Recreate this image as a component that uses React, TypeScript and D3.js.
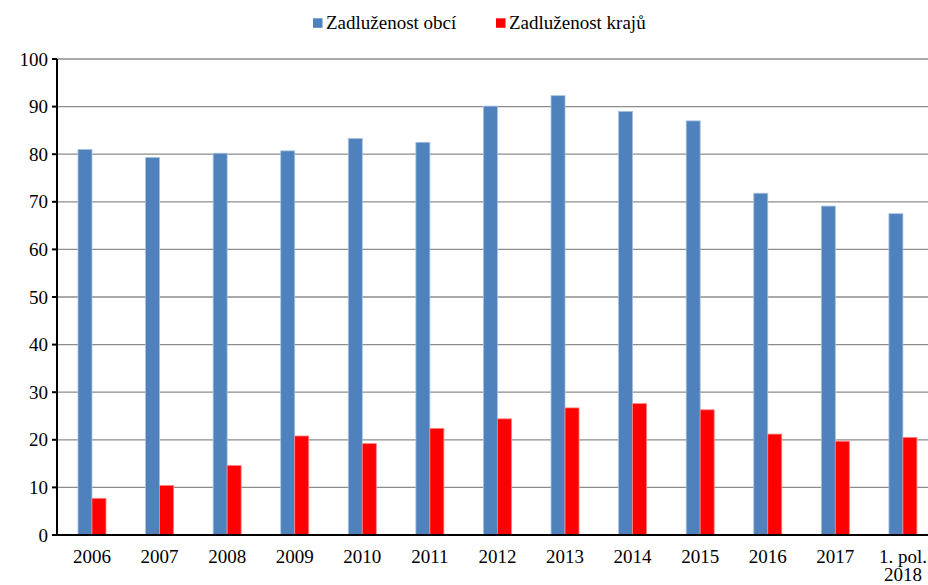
import React from "react";
import * as d3 from "d3";

const categories = ["2006","2007","2008","2009","2010","2011","2012","2013","2014","2015","2016","2017","1. pol.\n2018"];
const obce = [81.0, 79.3, 80.2, 80.7, 83.3, 82.5, 90.1, 92.3, 89.0, 87.0, 71.8, 69.1, 67.5];
const kraje = [7.7, 10.4, 14.6, 20.8, 19.2, 22.4, 24.4, 26.7, 27.6, 26.3, 21.2, 19.7, 20.5];
const yTicks = [0, 10, 20, 30, 40, 50, 60, 70, 80, 90, 100];
const seriesNames = ["Zadluženost obcí", "Zadluženost krajů"];
const colors = ["#4F81BD", "#FF0000"];

export default function App() {
  const W = 928, H = 585;
  const left = 57, top = 59, bottom = 535;
  const x = d3.scaleBand<string>().domain(categories).range([58.2, 936.7]).padding(0);
  const y = d3.scaleLinear().domain([0, 100]).range([bottom, top]);
  const bw = x.bandwidth() * 0.207;
  const font = "Liberation Serif, DejaVu Serif, serif";
  return (
    <svg width={W} height={H} style={{ position: "absolute", left: 0, top: 0, fontFamily: font }}>
      <rect width={W} height={H} fill="#fff" />
      {yTicks.filter(t => t > 0).map(t => (
        <line key={t} x1={left} x2={W} y1={y(t)} y2={y(t)} stroke="#8c8c8c" strokeWidth={1.3} />
      ))}
      {categories.map((c, i) => {
        const cx = x(c)! + x.bandwidth() / 2;
        return (
          <g key={c}>
            <rect x={cx - bw} y={y(obce[i])} width={bw} height={bottom - y(obce[i])} fill={colors[0]} stroke="#a9c1e0" strokeWidth={0.8} />
            <rect x={cx} y={y(kraje[i])} width={bw} height={bottom - y(kraje[i])} fill={colors[1]} stroke="#ff8080" strokeWidth={0.8} />
          </g>
        );
      })}
      <line x1={left} x2={left} y1={top} y2={bottom} stroke="#000" strokeWidth={2} />
      <line x1={left - 5} x2={W} y1={bottom} y2={bottom} stroke="#000" strokeWidth={2} />
      {yTicks.map(t => (
        <g key={t}>
          <line x1={left - 5} x2={left} y1={y(t)} y2={y(t)} stroke="#000" strokeWidth={2} />
          <text x={48} y={y(t) + 6.5} textAnchor="end" fontSize={19} fill="#000" style={{ fontFamily: font }}>{t}</text>
        </g>
      ))}
      {categories.map(c => {
        const cx = x(c)! + x.bandwidth() / 2;
        const lines = c.split("\n");
        return (
          <text key={c} textAnchor="middle" fontSize={19} fill="#000" style={{ fontFamily: font }}>
            {lines.map((l, j) => (
              <tspan key={j} x={cx} y={563 + j * 18}>{l}</tspan>
            ))}
          </text>
        );
      })}
      <g>
        <rect x={313} y={18.3} width={9.5} height={9.5} fill={colors[0]} />
        <text x={326} y={29} fontSize={19} fill="#000" style={{ fontFamily: font }}>{seriesNames[0]}</text>
        <rect x={496} y={18.3} width={9.5} height={9.5} fill={colors[1]} />
        <text x={509} y={29} fontSize={19} fill="#000" style={{ fontFamily: font }}>{seriesNames[1]}</text>
      </g>
    </svg>
  );
}
